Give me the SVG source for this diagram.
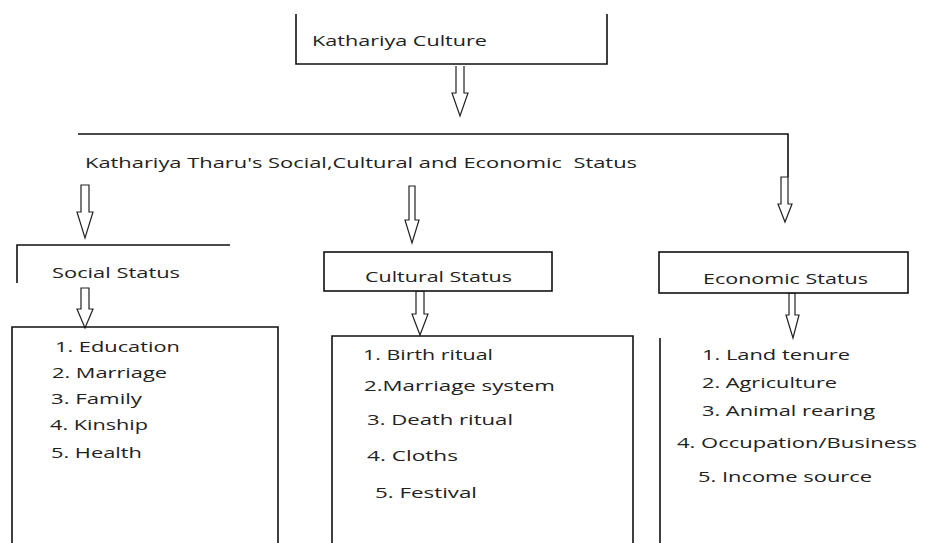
<svg xmlns="http://www.w3.org/2000/svg" width="925" height="543" viewBox="0 0 925 543">
<style>
.ln{fill:none;stroke:#111;stroke-width:1.6}
.bx{fill:#fff;stroke:#111;stroke-width:1.6}
.ar{fill:#fff;stroke:#222;stroke-width:1.2;stroke-linejoin:miter}
text{font-family:"Open Sans","Liberation Sans",sans-serif;font-size:15px;fill:#222}
</style>
<rect width="925" height="543" fill="#fff"/>
<g id="connectors">
<path class="ar" d="M456,66 V93 H452 L460,116 L468,93 H464 V66"/>
<path class="ln" d="M78,134 H788 V177"/>
<path class="ar" d="M781,177 V204 H778 L785,222 L792,204 H788 V177 Z"/>
<path class="ar" d="M81,185 V212 H77 L85,238 L93,212 H89 V185 Z"/>
<path class="ar" d="M409,186 H415 V220 H419 L412,243 L405,220 H409 Z"/>
<path class="ar" d="M81,288 V309 H77 L85,328 L93,309 H89 V288 Z"/>
<path class="ar" d="M416,291 V314 H412 L420,335 L428,314 H424 V291 Z"/>
<path class="ar" d="M789,293 H795 V315 H799 L793,338 L786,315 H789 Z"/>
</g>
<g id="kathariya-culture">
<path class="ln" d="M296,14 V64 H607 V14"/>
<text x="312" y="46" textLength="175" lengthAdjust="spacingAndGlyphs">Kathariya Culture</text>
</g>
<g id="status-header">
<text x="85" y="168" xml:space="preserve" textLength="552" lengthAdjust="spacingAndGlyphs">Kathariya Tharu's Social,Cultural and Economic  Status</text>
</g>
<g id="social-status">
<path class="ln" d="M17,283 V245 H230"/>
<text x="52" y="278" textLength="128" lengthAdjust="spacingAndGlyphs">Social Status</text>
</g>
<g id="social-list">
<path class="ln" d="M12,543 V327 H278 V543"/>
<text x="55" y="352" textLength="125" lengthAdjust="spacingAndGlyphs">1. Education</text>
<text x="52" y="378" textLength="115" lengthAdjust="spacingAndGlyphs">2. Marriage</text>
<text x="51" y="404" textLength="91" lengthAdjust="spacingAndGlyphs">3. Family</text>
<text x="50" y="430" textLength="98" lengthAdjust="spacingAndGlyphs">4. Kinship</text>
<text x="51" y="458" textLength="91" lengthAdjust="spacingAndGlyphs">5. Health</text>
</g>
<g id="cultural-status">
<rect class="bx" x="324" y="252" width="228" height="39"/>
<text x="365" y="282" textLength="147" lengthAdjust="spacingAndGlyphs">Cultural Status</text>
</g>
<g id="cultural-list">
<path class="ln" d="M332,543 V336 H633 V543"/>
<text x="363" y="360" textLength="130" lengthAdjust="spacingAndGlyphs">1. Birth ritual</text>
<text x="364" y="391" textLength="191" lengthAdjust="spacingAndGlyphs">2.Marriage system</text>
<text x="367" y="425" textLength="146" lengthAdjust="spacingAndGlyphs">3. Death ritual</text>
<text x="367" y="461" textLength="91" lengthAdjust="spacingAndGlyphs">4. Cloths</text>
<text x="375" y="498" textLength="102" lengthAdjust="spacingAndGlyphs">5. Festival</text>
</g>
<g id="economic-status">
<rect class="bx" x="659" y="252" width="249" height="41"/>
<text x="703" y="284" textLength="165" lengthAdjust="spacingAndGlyphs">Economic Status</text>
</g>
<g id="economic-list">
<path class="ln" d="M660,338 V543"/>
<text x="702" y="360" textLength="148" lengthAdjust="spacingAndGlyphs">1. Land tenure</text>
<text x="702" y="388" textLength="135" lengthAdjust="spacingAndGlyphs">2. Agriculture</text>
<text x="702" y="416" textLength="173" lengthAdjust="spacingAndGlyphs">3. Animal rearing</text>
<text x="677" y="448" textLength="240" lengthAdjust="spacingAndGlyphs">4. Occupation/Business</text>
<text x="698" y="482" textLength="174" lengthAdjust="spacingAndGlyphs">5. Income source</text>
</g>
</svg>
